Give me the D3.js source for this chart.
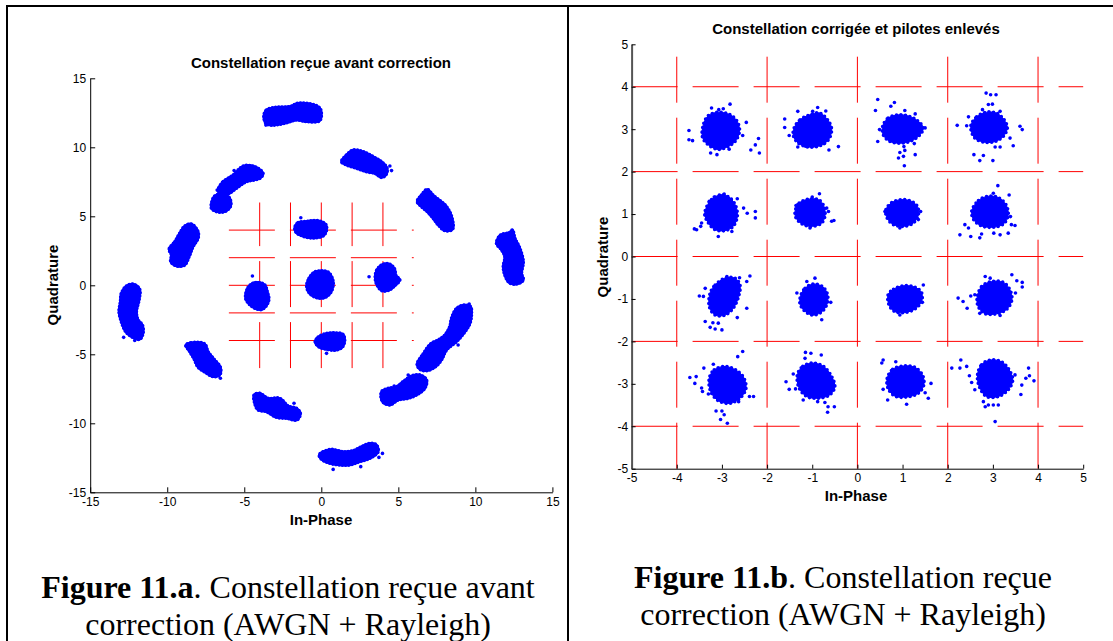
<!DOCTYPE html>
<html><head><meta charset="utf-8">
<script src="https://cdn.jsdelivr.net/npm/d3@7"></script>
<style>body{margin:0;background:#fff}svg{display:block}</style>
</head><body>
<svg id="c" width="1113" height="641"></svg>
<script>
// ---------- DATA ----------
const leftTicks = [-15, -10, -5, 0, 5, 10, 15];
const rightTicks = [-5, -4, -3, -2, -1, 0, 1, 2, 3, 4, 5];
const leftGridValues = [-4, -2, 0, 2, 4];
const leftGridExtent = [-6, 6];
const rightGridValues = [-4, -2, 0, 2, 4];
const rightGridExtent = [-5, 5];

const leftTitle = "Constellation reçue avant correction";
const rightTitle = "Constellation corrigée et pilotes enlevés";
const xLabel = "In-Phase";
const yLabel = "Quadrature";

// dense cores of received clusters (outline of each blob)
const leftCores = [
 [[-3.73,12.27],[-3.56,12.70],[-2.91,12.90],[-2.05,12.95],[-1.51,13.19],[-0.31,13.02],[-0.03,12.70],[-0.10,11.93],[-0.96,11.86],[-1.61,11.98],[-2.26,11.78],[-3.02,11.61],[-3.56,11.69]],
 [[-6.70,6.91],[-6.37,7.51],[-5.72,7.99],[-5.07,8.64],[-4.32,8.60],[-3.78,8.11],[-3.99,7.75],[-4.86,7.51],[-5.51,7.03],[-6.05,6.62],[-6.59,6.62]],
 [[-7.13,5.94],[-6.92,6.47],[-6.37,6.62],[-5.94,6.30],[-5.90,5.70],[-6.27,5.34],[-6.81,5.34],[-7.13,5.58]],
 [[-9.88,2.61],[-9.51,3.16],[-9.19,3.77],[-8.86,4.30],[-8.43,4.44],[-8.00,3.89],[-8.00,3.40],[-8.32,2.80],[-8.58,2.08],[-8.86,1.47],[-9.40,1.40],[-9.77,1.71],[-9.73,2.20]],
 [[-12.98,-0.58],[-12.65,-0.05],[-12.22,0.09],[-11.79,-0.29],[-11.83,-1.07],[-12.00,-1.91],[-11.89,-2.51],[-11.61,-2.88],[-11.57,-3.48],[-11.79,-3.92],[-12.33,-3.72],[-12.70,-3.36],[-12.98,-2.64],[-13.13,-1.91],[-13.04,-1.19]],
 [[-8.80,-4.33],[-8.43,-4.16],[-7.57,-4.25],[-7.35,-4.81],[-6.92,-5.41],[-6.55,-5.94],[-6.59,-6.50],[-7.03,-6.62],[-7.50,-6.33],[-8.00,-5.94],[-8.28,-5.29],[-8.58,-4.74]],
 [[-4.36,-7.95],[-3.99,-7.83],[-3.45,-8.19],[-2.69,-8.19],[-2.15,-8.75],[-1.61,-8.92],[-1.36,-9.28],[-1.57,-9.76],[-2.26,-9.64],[-2.91,-9.57],[-3.56,-9.16],[-4.10,-9.04],[-4.32,-8.56]],
 [[-0.14,-12.30],[0.12,-12.06],[0.66,-11.89],[1.42,-12.06],[2.07,-11.98],[2.61,-11.69],[3.15,-11.45],[3.58,-11.57],[3.69,-12.06],[3.15,-12.54],[2.50,-12.78],[1.85,-13.02],[1.20,-13.02],[0.55,-12.90],[0.01,-12.61]],
 [[3.91,-7.71],[4.34,-7.47],[4.88,-7.35],[5.31,-6.98],[5.85,-6.57],[6.40,-6.50],[6.83,-6.86],[6.72,-7.47],[6.18,-7.95],[5.64,-8.19],[4.99,-8.31],[4.45,-8.67],[3.97,-8.43]],
 [[6.22,-5.70],[6.61,-4.98],[7.09,-4.25],[7.59,-3.96],[8.02,-3.60],[8.34,-2.99],[8.45,-2.39],[8.78,-1.67],[9.25,-1.43],[9.69,-1.55],[9.75,-2.03],[9.65,-2.76],[9.25,-3.48],[8.78,-4.08],[8.13,-4.69],[7.80,-5.41],[7.37,-5.94],[6.83,-6.19],[6.40,-6.09]],
 [[6.22,6.06],[6.50,6.54],[6.87,6.95],[7.31,6.47],[7.80,6.06],[8.13,5.70],[8.45,5.02],[8.52,4.06],[8.02,3.96],[7.59,4.37],[7.26,4.85],[6.87,5.34],[6.50,5.70]],
 [[11.37,3.04],[11.63,3.64],[12.20,3.81],[12.41,4.01],[12.57,3.40],[12.89,2.68],[13.11,1.71],[13.00,0.87],[13.11,0.38],[12.67,0.09],[12.20,0.19],[11.91,0.75],[11.81,1.35],[11.91,2.08],[11.70,2.56]],
 [[1.31,8.96],[1.63,9.44],[2.07,9.80],[2.72,9.68],[3.37,9.32],[3.91,8.96],[4.27,8.48],[4.19,7.99],[3.91,7.82],[3.47,8.11],[2.93,8.23],[2.28,8.48],[1.63,8.72]],
 [[-1.72,4.20],[-1.50,4.55],[-1.00,4.62],[-0.50,4.70],[0.00,4.62],[0.30,4.40],[0.34,4.00],[0.15,3.60],[-0.30,3.45],[-0.80,3.45],[-1.30,3.60],[-1.65,3.85]],
 [[-4.90,-0.60],[-4.75,-0.15],[-4.45,0.15],[-4.00,0.20],[-3.65,0.00],[-3.50,-0.50],[-3.40,-1.00],[-3.55,-1.45],[-3.85,-1.75],[-4.25,-1.70],[-4.65,-1.40],[-4.90,-1.00]],
 [[-0.95,-0.10],[-0.80,0.50],[-0.45,0.95],[0.00,1.05],[0.45,0.95],[0.72,0.50],[0.77,0.00],[0.60,-0.55],[0.20,-0.90],[-0.30,-0.90],[-0.75,-0.60]],
 [[3.50,0.50],[3.60,1.10],[3.95,1.50],[4.40,1.55],[4.75,1.20],[4.85,0.70],[5.10,0.40],[4.80,0.00],[4.40,-0.35],[3.95,-0.40],[3.65,-0.05]],
 [[-0.40,-4.10],[-0.20,-3.75],[0.30,-3.50],[0.90,-3.45],[1.40,-3.55],[1.52,-4.00],[1.35,-4.50],[0.90,-4.70],[0.40,-4.65],[-0.10,-4.50]]
];
const leftPoints = [[-3.60,11.61],[-0.21,12.10],[-5.66,8.31],[-6.76,6.91],[-9.84,2.61],[-12.83,-3.77],[-12.11,-4.00],[-11.74,-3.84],[-6.55,-6.74],[-1.77,-8.55],[0.77,-13.34],[2.56,-13.14],[3.97,-12.18],[3.74,-12.47],[5.64,-6.50],[4.73,-7.30],[9.60,-1.36],[8.88,-4.33],[4.45,8.64],[4.56,8.31],[1.35,8.89],[-1.33,4.90],[-4.47,0.67],[3.10,0.62],[0.34,-4.93]];

const rightCores = [
 [[-3.41,3.11],[-3.30,3.32],[-3.08,3.40],[-2.82,3.34],[-2.66,3.18],[-2.61,2.95],[-2.71,2.71],[-2.89,2.58],[-3.08,2.52],[-3.30,2.63],[-3.43,2.81]],
 [[-1.40,3.03],[-1.27,3.22],[-1.05,3.34],[-0.83,3.38],[-0.64,3.19],[-0.57,2.99],[-0.64,2.75],[-0.83,2.61],[-1.09,2.58],[-1.31,2.67],[-1.42,2.85]],
 [[0.56,3.07],[0.68,3.26],[0.91,3.34],[1.16,3.30],[1.35,3.18],[1.46,3.03],[1.37,2.85],[1.16,2.71],[0.94,2.67],[0.72,2.71],[0.57,2.87]],
 [[2.51,3.07],[2.64,3.29],[2.86,3.40],[3.08,3.38],[3.25,3.22],[3.32,3.03],[3.23,2.83],[3.05,2.71],[2.83,2.69],[2.60,2.79]],
 [[-3.35,1.14],[-3.23,1.34],[-3.01,1.46],[-2.82,1.38],[-2.69,1.18],[-2.66,0.94],[-2.75,0.71],[-2.93,0.61],[-3.15,0.63],[-3.30,0.79],[-3.38,0.98]],
 [[-1.38,1.06],[-1.29,1.26],[-1.09,1.35],[-0.86,1.34],[-0.74,1.18],[-0.72,0.94],[-0.81,0.77],[-1.05,0.71],[-1.23,0.77],[-1.36,0.91]],
 [[0.63,1.10],[0.76,1.27],[0.98,1.34],[1.20,1.30],[1.33,1.18],[1.35,0.98],[1.24,0.79],[1.02,0.71],[0.80,0.75],[0.66,0.90]],
 [[2.53,1.06],[2.68,1.32],[2.90,1.42],[3.12,1.39],[3.29,1.22],[3.34,0.98],[3.24,0.77],[3.01,0.69],[2.75,0.72],[2.58,0.86]],
 [[-3.26,-0.86],[-3.15,-0.67],[-2.93,-0.51],[-2.71,-0.51],[-2.60,-0.67],[-2.63,-0.94],[-2.75,-1.22],[-2.93,-1.38],[-3.15,-1.38],[-3.28,-1.18]],
 [[-1.26,-0.94],[-1.16,-0.75],[-0.98,-0.65],[-0.77,-0.71],[-0.66,-0.90],[-0.68,-1.14],[-0.81,-1.32],[-1.01,-1.38],[-1.18,-1.27],[-1.27,-1.12]],
 [[0.68,-0.90],[0.80,-0.77],[1.02,-0.69],[1.27,-0.72],[1.42,-0.85],[1.42,-1.06],[1.27,-1.24],[1.05,-1.32],[0.83,-1.30],[0.70,-1.14]],
 [[2.65,-0.98],[2.75,-0.71],[2.97,-0.59],[3.23,-0.61],[3.38,-0.79],[3.42,-1.02],[3.31,-1.24],[3.08,-1.35],[2.83,-1.35],[2.68,-1.19]],
 [[-3.28,-2.87],[-3.17,-2.67],[-2.93,-2.59],[-2.67,-2.69],[-2.51,-2.87],[-2.47,-3.12],[-2.60,-3.34],[-2.82,-3.46],[-3.08,-3.40],[-3.25,-3.18]],
 [[-1.33,-2.79],[-1.21,-2.59],[-0.99,-2.51],[-0.75,-2.59],[-0.57,-2.83],[-0.50,-3.07],[-0.61,-3.26],[-0.87,-3.34],[-1.12,-3.30],[-1.29,-3.10]],
 [[0.66,-2.87],[0.78,-2.66],[1.02,-2.58],[1.27,-2.61],[1.44,-2.79],[1.47,-3.03],[1.35,-3.22],[1.09,-3.31],[0.83,-3.29],[0.68,-3.11]],
 [[2.66,-2.79],[2.75,-2.55],[2.94,-2.44],[3.19,-2.48],[3.36,-2.67],[3.44,-2.91],[3.34,-3.14],[3.12,-3.30],[2.86,-3.30],[2.70,-3.07]]
];
const rightPoints = [
 [-3.73,2.97],[-3.73,2.75],[-3.65,2.73],[-3.23,3.50],[-3.07,3.46],[-2.97,3.48],[-2.82,3.59],[-2.46,3.16],[-2.54,2.85],[-2.36,2.51],[-2.26,2.63],[-2.19,2.78],[-2.17,2.44],[-3.25,2.44],[-3.11,2.40],[-2.84,2.53],
 [-1.61,3.24],[-1.61,3.04],[-1.51,2.85],[-1.32,3.42],[-0.99,3.42],[-0.88,3.51],[-0.70,3.43],[-1.32,2.58],[-1.15,2.60],[-0.98,2.61],[-0.74,2.66],[-0.63,2.51],[-0.42,2.59],
 [0.45,3.70],[0.40,3.44],[0.74,3.54],[0.82,3.63],[1.05,3.44],[1.28,3.36],[1.50,3.03],[0.49,2.99],[0.45,2.71],[1.03,2.59],[1.05,2.50],[0.94,2.45],[0.91,2.32],[1.02,2.36],[1.04,2.14],[1.28,2.40],[1.26,2.66],
 [2.85,3.85],[2.95,3.81],[3.07,3.81],[2.90,3.58],[2.99,3.59],[2.77,3.46],[3.16,3.42],[2.46,3.29],[2.21,3.09],[2.42,3.08],[3.60,3.07],[3.65,2.99],[3.38,2.79],[3.45,2.61],[3.16,2.58],[3.05,2.58],[2.58,2.40],[2.79,2.38],[2.71,2.26],[3.00,2.26],
 [-3.28,1.30],[-3.17,1.40],[-2.95,1.47],[-2.66,1.36],[-2.52,1.14],[-2.44,1.02],[-2.26,1.06],[-2.26,0.91],[-2.78,0.59],[-3.08,0.47],[-3.47,0.71],[-3.56,0.63],[-3.61,0.65],[-3.45,0.79],
 [-1.36,1.20],[-1.00,1.40],[-0.84,1.48],[-0.68,1.14],[-0.64,1.06],[-0.57,0.83],[-0.52,0.85],[-1.05,0.67],
 [0.61,1.06],[1.40,1.06],[1.35,0.87],[0.94,0.67],
 [3.11,1.67],[3.36,1.45],[3.01,1.49],[3.39,0.94],[3.41,0.75],[3.49,0.73],[3.34,0.55],[3.16,0.51],[3.02,0.55],[2.75,0.53],[2.71,0.44],[2.51,0.47],[2.46,0.67],[2.27,0.51],[2.38,0.75],
 [-2.89,-0.47],[-2.61,-0.50],[-2.45,-0.59],[-2.38,-0.46],[-3.37,-0.75],[-3.50,-0.93],[-3.41,-0.94],[-2.45,-1.22],[-2.66,-1.44],[-3.37,-1.53],[-3.26,-1.67],[-3.15,-1.71],[-3.00,-1.73],[-3.20,-1.56],[-3.08,-1.57],
 [-1.34,-0.86],[-1.12,-0.59],[-0.94,-0.51],[-0.59,-1.08],[-0.79,-1.49],
 [1.46,-0.67],[1.44,-1.08],[0.94,-1.38],
 [2.83,-0.47],[2.94,-0.51],[3.42,-0.43],[3.53,-0.57],[3.65,-0.61],[3.65,-0.72],[3.50,-0.86],[2.23,-0.98],[2.34,-1.06],[2.43,-1.22],[2.51,-0.93],[2.60,-0.90],[2.71,-1.34],[3.16,-1.39],
 [-2.54,-2.24],[-2.65,-2.36],[-3.19,-2.54],[-3.40,-2.63],[-3.71,-2.85],[-3.57,-2.83],[-3.60,-2.99],[-3.45,-3.10],[-3.43,-3.18],[-3.30,-3.24],[-2.39,-3.30],[-2.30,-3.30],[-2.63,-3.42],[-3.13,-3.64],[-3.00,-3.64],[-2.95,-3.73],[-3.03,-3.84],[-2.88,-3.93],
 [-1.15,-2.26],[-1.03,-2.28],[-0.80,-2.32],[-1.16,-2.40],[-1.42,-2.77],[-1.58,-2.95],[-1.51,-3.13],[-1.37,-3.12],[-1.20,-3.38],[-0.88,-3.42],[-0.72,-3.44],[-0.65,-3.54],[-0.51,-3.54],[-0.66,-3.67],
 [0.57,-2.44],[0.54,-2.51],[0.85,-2.48],[1.63,-2.99],[1.57,-3.34],[1.50,-3.21],[1.09,-3.48],[0.67,-3.38],[0.57,-3.13],
 [2.09,-2.63],[2.29,-2.44],[2.27,-2.63],[2.42,-2.59],[2.48,-2.81],[2.53,-2.97],[2.60,-3.14],[2.79,-3.42],[2.83,-3.54],[2.90,-3.50],[3.01,-3.50],[3.12,-3.50],[3.05,-3.89],[3.49,-2.79],[3.64,-3.03],[3.73,-2.87],[3.81,-2.81],[3.91,-2.93],[3.62,-3.25],[3.79,-2.63]
];

const captionA = ["Figure 11.a", ". Constellation reçue avant", "correction (AWGN + Rayleigh)"];
const captionB = ["Figure 11.b", ". Constellation reçue", "correction (AWGN + Rayleigh)"];

// ---------- DRAW ----------
const svg = d3.select("#c");
const SANS = "'Liberation Sans', Arial, Helvetica, sans-serif";
const SERIF = "'Liberation Serif', 'Times New Roman', serif";
const BLUE = "#0000ff", RED = "#ff0000";

// frame lines
svg.append("line").attr("x1", 6).attr("x2", 1113).attr("y1", 6).attr("y2", 6).attr("stroke", "#000").attr("stroke-width", 2);
svg.append("line").attr("x1", 7).attr("x2", 7).attr("y1", 5).attr("y2", 641).attr("stroke", "#000").attr("stroke-width", 2);
svg.append("line").attr("x1", 568).attr("x2", 568).attr("y1", 5).attr("y2", 641).attr("stroke", "#000").attr("stroke-width", 2);

function panel(o) {
  const x = d3.scaleLinear().domain(o.dom).range(o.xr);
  const y = d3.scaleLinear().domain(o.dom).range(o.yr);
  const g = svg.append("g");

  // red dashed grid
  o.grid.forEach(v => {
    g.append("line").attr("x1", x(o.ext[0])).attr("x2", x(o.ext[1])).attr("y1", y(v)).attr("y2", y(v))
      .attr("stroke", RED).attr("stroke-width", 1).attr("stroke-dasharray", "46 15");
    g.append("line").attr("x1", x(v)).attr("x2", x(v)).attr("y1", y(o.ext[0])).attr("y2", y(o.ext[1]))
      .attr("stroke", RED).attr("stroke-width", 1).attr("stroke-dasharray", "46 15");
  });

  // cluster cores: solid body plus a beaded rim of marker dots
  const line = d3.line().x(d => x(d[0])).y(d => y(d[1])).curve(d3.curveCatmullRomClosed);
  g.selectAll(null).data(o.cores).join("path").attr("d", line)
    .attr("fill", BLUE).attr("stroke", BLUE).attr("stroke-width", o.coreStroke).attr("stroke-linejoin", "round");
  g.selectAll(null).data(o.cores).join("path").attr("d", line)
    .attr("fill", "none").attr("stroke", BLUE).attr("stroke-width", 3.6)
    .attr("stroke-linecap", "round").attr("stroke-dasharray", o.bead)
    .attr("transform", o.beadShift);
  // individual points
  g.selectAll(null).data(o.pts).join("circle")
    .attr("cx", d => x(d[0])).attr("cy", d => y(d[1])).attr("r", 1.8).attr("fill", BLUE);

  // axes
  const ax = g.append("g").attr("transform", `translate(0,${o.yr[0]})`)
    .call(d3.axisBottom(x).tickValues(o.ticks).tickSizeInner(-o.tk).tickSizeOuter(0).tickPadding(5).tickFormat(d => String(d)));
  const ay = g.append("g").attr("transform", `translate(${o.xr[0]},0)`)
    .call(d3.axisLeft(y).tickValues(o.ticks).tickSizeInner(-o.tk).tickSizeOuter(0).tickPadding(o.ypad).tickFormat(d => String(d)));
  [ax, ay].forEach(a => {
    a.selectAll("text").attr("font-family", SANS).attr("font-size", 12).attr("fill", "#000");
    a.selectAll("line").attr("stroke", "#000");
    a.select(".domain").attr("stroke", "#000");
  });
  if (o.yAxisColor) ay.select(".domain").attr("stroke", o.yAxisColor).attr("stroke-width", 2);

  // titles
  g.append("text").attr("x", o.cx).attr("y", o.titleY).attr("text-anchor", "middle")
    .attr("font-family", SANS).attr("font-weight", "bold").attr("font-size", 15).text(o.title);
  g.append("text").attr("x", o.cx).attr("y", o.xlabY).attr("text-anchor", "middle")
    .attr("font-family", SANS).attr("font-weight", "bold").attr("font-size", 15).text(xLabel);
  g.append("text").attr("transform", `translate(${o.ylabX},${o.cy}) rotate(-90)`).attr("text-anchor", "middle")
    .attr("font-family", SANS).attr("font-weight", "bold").attr("font-size", 15).text(yLabel);

  // caption
  const t1 = g.append("text").attr("x", o.capX).attr("y", o.capY[0]).attr("text-anchor", "middle")
    .attr("font-family", SERIF).attr("font-size", 32);
  t1.append("tspan").attr("font-weight", "bold").text(o.cap[0]);
  t1.append("tspan").text(o.cap[1]);
  g.append("text").attr("x", o.capX).attr("y", o.capY[1]).attr("text-anchor", "middle")
    .attr("font-family", SERIF).attr("font-size", 32).text(o.cap[2]);
}

panel({dom: [-15, 15], xr: [90.2, 552.4], yr: [492.3, 78.3], ticks: leftTicks, grid: leftGridValues, ext: leftGridExtent,
  cores: leftCores, pts: leftPoints, coreStroke: 2.5, bead: "0 3.2", beadShift: null,
  tk: 5, ypad: 4, title: leftTitle, cx: 321, cy: 285, titleY: 68, xlabY: 525, ylabX: 58,
  cap: captionA, capX: 288, capY: [598, 635]});
panel({dom: [-5, 5], xr: [631.6, 1083.2], yr: [468.7, 44.3], ticks: rightTicks, grid: rightGridValues, ext: rightGridExtent,
  cores: rightCores, pts: rightPoints, coreStroke: 1, bead: "0 4.5", beadShift: null,
  tk: 4, ypad: 3.5, yAxisColor: "#555", title: rightTitle, cx: 856, cy: 257, titleY: 34, xlabY: 501, ylabX: 608,
  cap: captionB, capX: 843, capY: [588, 625]});
</script>
</body></html>
